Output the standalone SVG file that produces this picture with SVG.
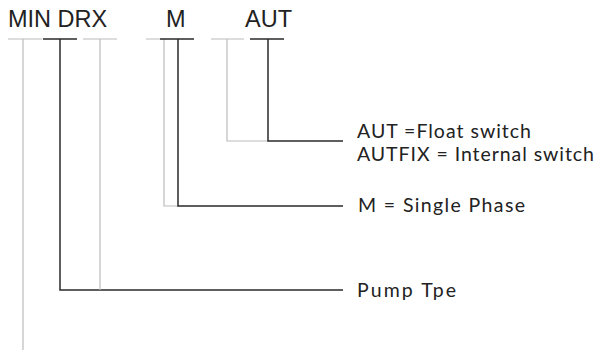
<svg xmlns="http://www.w3.org/2000/svg" width="595" height="351" viewBox="0 0 595 351">
<style>
.code{font-family:"Liberation Sans",Arial,sans-serif;font-size:23.5px;fill:#222}
.desc{font-family:Lato,"Open Sans",sans-serif;font-size:19.5px;fill:#222}
.dk{stroke:#2a2a2a;stroke-width:1.5;fill:none}
.lt{stroke:#bcbcbc;stroke-width:1.2;fill:none}
</style>
<rect width="595" height="351" fill="#fff"/>
<g id="code-min-drx"><text class="code" x="8" y="26.5">MIN DRX</text></g>
<g id="code-m"><text class="code" x="166" y="26.5">M</text></g>
<g id="code-aut"><text class="code" x="245" y="26.5">AUT</text></g>
<g id="connectors">
  <path class="lt" d="M8 39H42M23 39V350"/>
  <path class="dk" d="M43 39H77M60 39V290H343"/>
  <path class="lt" d="M83 39H117M100 39V290"/>
  <path class="lt" d="M146 39H160M164 39V206H178"/>
  <path class="dk" d="M160 39H194M178 39V206H343"/>
  <path class="lt" d="M211 39H244M227 39V141H268"/>
  <path class="dk" d="M250 39H284M268 39V141H343"/>
</g>
<g id="desc-aut"><text class="desc" x="357" y="137.5" textLength="174" lengthAdjust="spacing">AUT =Float switch</text><text class="desc" x="357" y="161" textLength="237" lengthAdjust="spacing">AUTFIX = Internal switch</text></g>
<g id="desc-m"><text class="desc" x="358" y="212" textLength="167" lengthAdjust="spacing">M = Single Phase</text></g>
<g id="desc-pump"><text class="desc" x="357" y="297" textLength="99" lengthAdjust="spacing">Pump Tpe</text></g>
</svg>
